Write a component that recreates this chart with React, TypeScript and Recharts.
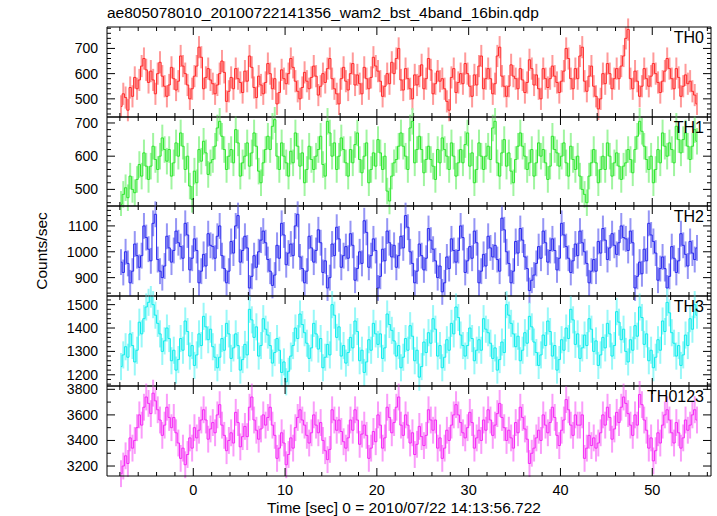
import { ComposedChart, Line, XAxis, YAxis, ErrorBar } from "recharts";

// light curves, 0.25 s bins starting at t = -8 s (values in counts/sec)
const BIN_START = -8;
const BIN_SIZE = 0.25;

const TH0 = [
  470, 520, 505, 455, 545, 510, 585, 540, 575, 630, 660, 615, 565, 610, 575, 520, 600, 645, 590, 550,
  510, 555, 625, 580, 535, 570, 670, 630, 600, 555, 500, 540, 590, 630, 705, 665, 540, 585, 620, 575,
  560, 520, 555, 600, 650, 605, 490, 530, 585, 540, 620, 580, 565, 525, 610, 570, 670, 625, 545, 505,
  590, 555, 520, 565, 640, 600, 540, 580, 480, 525, 615, 580, 560, 600, 660, 625, 570, 530, 500, 545,
  605, 570, 540, 585, 630, 590, 515, 550, 600, 565, 620, 660, 580, 540, 520, 480, 580, 625, 570, 535,
  600, 640, 555, 595, 560, 520, 625, 580, 540, 585, 665, 630, 610, 570, 510, 550, 600, 560, 645, 600,
  660, 700, 575, 535, 620, 580, 540, 500, 595, 555, 590, 635, 540, 580, 660, 615, 520, 560, 610, 570,
  580, 540, 490, 455, 585, 620, 525, 565, 600, 560, 640, 600, 550, 510, 595, 555, 630, 670, 540, 580,
  620, 580, 520, 560, 670, 705, 590, 550, 510, 550, 635, 590, 580, 540, 620, 575, 525, 565, 655, 620,
  555, 595, 540, 500, 620, 580, 545, 580, 630, 590, 565, 525, 570, 610, 700, 660, 580, 540, 620, 580,
  670, 705, 570, 530, 590, 630, 550, 510, 460, 500, 600, 560, 640, 600, 540, 580, 620, 580, 630, 670,
  740, 775, 580, 540, 610, 570, 510, 550, 620, 580, 550, 590, 640, 600, 565, 525, 570, 610, 660, 620,
  580, 540, 620, 585, 510, 550, 595, 560, 570, 530, 515, 480,
];

const TH1 = [
  455, 485, 505, 475, 540, 500, 490, 530, 575, 540, 610, 570, 530, 570, 630, 590, 560, 600, 655, 620,
  585, 620, 540, 580, 640, 600, 670, 630, 560, 600, 510, 470, 555, 520, 620, 585, 645, 610, 545, 580,
  590, 630, 685, 705, 660, 620, 560, 600, 620, 580, 680, 640, 540, 580, 600, 640, 570, 610, 670, 630,
  555, 520, 580, 620, 660, 620, 690, 710, 600, 560, 640, 600, 580, 540, 615, 580, 670, 630, 570, 610,
  520, 560, 630, 590, 560, 600, 620, 660, 575, 540, 705, 670, 600, 640, 560, 600, 655, 620, 580, 540,
  620, 580, 635, 670, 590, 550, 600, 640, 520, 560, 610, 570, 650, 610, 560, 600, 495, 465, 540, 580,
  590, 630, 670, 630, 600, 560, 685, 705, 580, 620, 660, 620, 550, 590, 630, 590, 570, 530, 620, 580,
  655, 620, 600, 560, 640, 600, 540, 580, 620, 580, 635, 670, 570, 610, 520, 560, 640, 600, 560, 600,
  630, 590, 685, 705, 580, 540, 610, 650, 570, 610, 555, 520, 590, 630, 670, 630, 600, 560, 580, 620,
  540, 580, 640, 600, 620, 580, 530, 570, 660, 620, 610, 570, 600, 640, 580, 540, 630, 590, 560, 600,
  540, 500, 485, 460, 540, 580, 620, 580, 520, 560, 600, 560, 640, 600, 540, 580, 610, 570, 530, 570,
  580, 620, 590, 550, 620, 660, 705, 675, 630, 590, 560, 600, 520, 560, 620, 580, 670, 630, 600, 640,
  620, 580, 690, 650, 610, 650, 670, 630, 590, 630, 680, 645,
];

const TH2 = [
  960, 920, 1000, 955, 880, 925, 1030, 985, 940, 985, 1100, 1055, 1010, 965, 1110, 1145, 970, 925, 900, 945,
  1060, 1015, 960, 1005, 1080, 1035, 1020, 975, 1110, 1065, 930, 975, 1050, 1005, 880, 925, 990, 945, 1070, 1025,
  1020, 975, 1060, 1100, 985, 935, 880, 925, 1040, 995, 1100, 1140, 960, 1005, 1060, 1015, 860, 905, 985, 940,
  1000, 1045, 1080, 1035, 970, 925, 870, 910, 1025, 975, 1110, 1065, 950, 995, 1030, 985, 1100, 1145, 980, 935,
  880, 925, 1060, 1015, 960, 1005, 1085, 1035, 920, 965, 860, 900, 1030, 985, 1095, 1050, 940, 985, 1020, 975,
  1070, 1025, 890, 935, 1000, 955, 1120, 1075, 940, 985, 1050, 1005, 860, 905, 1010, 965, 1080, 1035, 980, 1025,
  940, 985, 1060, 1015, 1140, 1095, 1000, 955, 880, 925, 1030, 985, 930, 975, 1090, 1045, 1010, 965, 900, 945,
  845, 880, 980, 935, 1050, 1005, 960, 1005, 1100, 1055, 920, 965, 1020, 975, 1080, 1035, 880, 925, 990, 945,
  1060, 1015, 980, 1025, 970, 925, 1130, 1085, 1000, 955, 880, 925, 1040, 995, 1090, 1045, 980, 935, 850, 890,
  910, 955, 1020, 975, 1080, 1035, 960, 1005, 1050, 1005, 930, 975, 1110, 1065, 1020, 975, 920, 965, 1030, 985,
  1080, 1035, 1000, 955, 880, 925, 970, 925, 1040, 995, 1090, 1045, 970, 1015, 1070, 1025, 990, 1035, 1100, 1055,
  1050, 1005, 1080, 1035, 860, 905, 960, 915, 1010, 965, 1110, 1065, 1040, 995, 890, 935, 980, 935, 860, 905,
  1020, 975, 920, 965, 1070, 1025, 990, 945, 1040, 995, 970, 1015,
];

const TH3 = [
  1235, 1285, 1320, 1275, 1375, 1325, 1255, 1305, 1425, 1375, 1440, 1490, 1510, 1545, 1500, 1455, 1420, 1375, 1300, 1345,
  1400, 1355, 1260, 1305, 1220, 1265, 1355, 1305, 1430, 1385, 1280, 1325, 1240, 1285, 1375, 1325, 1450, 1405, 1350, 1395,
  1320, 1275, 1230, 1275, 1355, 1305, 1420, 1375, 1270, 1315, 1375, 1325, 1220, 1265, 1330, 1285, 1480, 1435, 1360, 1405,
  1280, 1325, 1440, 1395, 1370, 1325, 1250, 1295, 1355, 1305, 1210, 1255, 1170, 1215, 1280, 1325, 1400, 1355, 1460, 1415,
  1380, 1335, 1270, 1315, 1420, 1375, 1310, 1355, 1230, 1275, 1330, 1285, 1500, 1455, 1360, 1405, 1280, 1325, 1250, 1295,
  1360, 1315, 1430, 1385, 1260, 1305, 1210, 1255, 1350, 1305, 1420, 1375, 1330, 1375, 1270, 1315, 1460, 1415, 1390, 1345,
  1280, 1325, 1230, 1275, 1355, 1305, 1410, 1365, 1260, 1305, 1190, 1235, 1340, 1295, 1380, 1335, 1440, 1395, 1280, 1325,
  1230, 1275, 1350, 1305, 1420, 1375, 1490, 1445, 1370, 1325, 1280, 1325, 1400, 1355, 1260, 1305, 1350, 1305, 1440, 1395,
  1380, 1335, 1270, 1315, 1220, 1265, 1340, 1295, 1500, 1455, 1420, 1375, 1320, 1365, 1260, 1305, 1380, 1335, 1450, 1405,
  1340, 1295, 1240, 1285, 1370, 1325, 1430, 1385, 1280, 1325, 1220, 1265, 1350, 1305, 1400, 1355, 1480, 1435, 1330, 1375,
  1270, 1315, 1370, 1325, 1440, 1395, 1300, 1345, 1240, 1285, 1360, 1315, 1420, 1375, 1280, 1325, 1470, 1425, 1350, 1395,
  1300, 1255, 1350, 1305, 1410, 1365, 1490, 1445, 1330, 1375, 1260, 1305, 1230, 1275, 1350, 1305, 1430, 1385, 1510, 1465,
  1380, 1335, 1280, 1325, 1240, 1285, 1370, 1325, 1440, 1395, 1500, 1455,
];

const TH0123 = [
  3140, 3200, 3280, 3220, 3420, 3340, 3400, 3500, 3600, 3520, 3660, 3740, 3690, 3610, 3770, 3710, 3640, 3560, 3440, 3520,
  3660, 3580, 3500, 3580, 3460, 3380, 3260, 3340, 3210, 3290, 3420, 3340, 3500, 3420, 3480, 3560, 3640, 3560, 3410, 3490,
  3540, 3460, 3600, 3680, 3520, 3440, 3320, 3400, 3460, 3380, 3620, 3540, 3350, 3430, 3510, 3430, 3660, 3740, 3560, 3480,
  3410, 3490, 3600, 3520, 3580, 3660, 3520, 3440, 3260, 3340, 3460, 3380, 3210, 3290, 3420, 3340, 3500, 3580, 3640, 3560,
  3520, 3440, 3380, 3460, 3600, 3520, 3460, 3540, 3400, 3320, 3250, 3330, 3640, 3560, 3480, 3560, 3470, 3390, 3340, 3420,
  3560, 3480, 3640, 3560, 3370, 3450, 3520, 3440, 3260, 3340, 3470, 3390, 3600, 3520, 3340, 3420, 3660, 3580, 3460, 3540,
  3660, 3740, 3520, 3440, 3600, 3520, 3380, 3460, 3290, 3370, 3510, 3430, 3360, 3440, 3640, 3560, 3480, 3560, 3340, 3420,
  3260, 3340, 3480, 3400, 3520, 3600, 3680, 3600, 3540, 3460, 3420, 3500, 3620, 3540, 3340, 3420, 3480, 3400, 3560, 3480,
  3640, 3560, 3440, 3520, 3610, 3690, 3580, 3500, 3400, 3480, 3420, 3340, 3540, 3460, 3660, 3580, 3490, 3410, 3220, 3300,
  3340, 3420, 3480, 3400, 3600, 3520, 3460, 3540, 3660, 3580, 3440, 3360, 3480, 3560, 3720, 3640, 3520, 3440, 3600, 3520,
  3520, 3600, 3260, 3340, 3440, 3360, 3420, 3340, 3380, 3460, 3600, 3520, 3660, 3580, 3410, 3490, 3620, 3540, 3660, 3740,
  3690, 3610, 3520, 3440, 3600, 3520, 3760, 3680, 3560, 3480, 3340, 3420, 3240, 3320, 3460, 3380, 3520, 3600, 3640, 3560,
  3460, 3380, 3540, 3460, 3340, 3420, 3560, 3480, 3520, 3600, 3640, 3560,
];

// typical 1-sigma error per bin
const ERR_TH0 = 44;
const ERR_TH1 = 40;
const ERR_TH2 = 50;
const ERR_TH3 = 58;
const ERR_TH0123 = 105;

const X_TICKS = [-8, -6, -4, -2, 0, 2, 4, 6, 8, 10, 12, 14, 16, 18, 20, 22, 24, 26, 28, 30, 32, 34, 36, 38, 40, 42, 44, 46, 48, 50, 52, 54, 56];
const X_MAJOR = 10;

const Y_TICKS_TH0 = [440, 460, 480, 500, 520, 540, 560, 580, 600, 620, 640, 660, 680, 700, 720, 740, 760, 780];
const Y_TICKS_TH1 = [460, 480, 500, 520, 540, 560, 580, 600, 620, 640, 660, 680, 700];
const Y_TICKS_TH2 = [840, 860, 880, 900, 920, 940, 960, 980, 1000, 1020, 1040, 1060, 1080, 1100, 1120, 1140, 1160];
const Y_TICKS_TH3 = [1160, 1180, 1200, 1220, 1240, 1260, 1280, 1300, 1320, 1340, 1360, 1380, 1400, 1420, 1440, 1460, 1480, 1500, 1520];
const Y_TICKS_SUM = [3200, 3300, 3400, 3500, 3600, 3700, 3800];

const W = 717;
const LEFT = 107;
const RIGHT = 711;
const EDGES = [27, 117, 206, 296, 386, 476];
const PAD = 10;
const AX = 1; // thickness reserved by each axis box
const FONT = '"Liberation Sans", Arial, Helvetica, sans-serif';
const X_DOMAIN: [number, number] = [-9.4, 56.4];

const panels = [
  { name: "TH0", values: TH0, err: ERR_TH0, color: "#ff2a2a", light: "#ff9a9a", domain: [428, 785], ticks: Y_TICKS_TH0, major: 100 },
  { name: "TH1", values: TH1, err: ERR_TH1, color: "#2ee62e", light: "#a0f5a0", domain: [450, 718], ticks: Y_TICKS_TH1, major: 100 },
  { name: "TH2", values: TH2, err: ERR_TH2, color: "#2a2aee", light: "#9595f5", domain: [829, 1177], ticks: Y_TICKS_TH2, major: 100 },
  { name: "TH3", values: TH3, err: ERR_TH3, color: "#10ecec", light: "#98f8f8", domain: [1152, 1537], ticks: Y_TICKS_TH3, major: 100 },
  { name: "TH0123", values: TH0123, err: ERR_TH0123, color: "#f52af5", light: "#fa9cfa", domain: [3122, 3826], ticks: Y_TICKS_SUM, major: 200 },
];

function xTick(side: "bottom" | "top", labels: boolean) {
  return (props: any) => {
    const { x, y, payload } = props;
    const major = payload.value % X_MAJOR === 0;
    const len = major ? 8 : 4;
    const dir = side === "bottom" ? -1 : 1;
    return (
      <g>
        <line x1={x} y1={y} x2={x} y2={y + dir * len} stroke="#000" strokeWidth={1} />
        {labels && major ? (
          <text x={x} y={y + 19} textAnchor="middle" fontSize={14.5} fontFamily={FONT} fill="#000">
            {payload.value}
          </text>
        ) : null}
      </g>
    );
  };
}

function yTick(side: "left" | "right", major: number) {
  return (props: any) => {
    const { x, y, payload } = props;
    const isMajor = payload.value % major === 0;
    const len = isMajor ? 8 : 4;
    const dir = side === "left" ? 1 : -1;
    return (
      <g>
        <line x1={x} y1={y} x2={x + dir * len} y2={y} stroke="#000" strokeWidth={1} />
        {side === "left" && isMajor ? (
          <text x={x - 9} y={y + 5} textAnchor="end" fontSize={14} fontFamily={FONT} fill="#000">
            {payload.value}
          </text>
        ) : null}
      </g>
    );
  };
}

function Panel({ p, index }: { p: (typeof panels)[number]; index: number }) {
  const top = EDGES[index];
  const h = EDGES[index + 1] - top;
  const last = index === panels.length - 1;
  const bottomPad = last ? 26 : PAD;
  const data = p.values.map((v, i) => ({ t: BIN_START + BIN_SIZE * (i + 0.5), v, e: p.err }));
  return (
    <div style={{ position: "absolute", left: 0, top: top - PAD }}>
      <ComposedChart
        width={W}
        height={h + PAD + bottomPad}
        data={data}
        margin={{ top: PAD - AX, right: W - RIGHT - AX, bottom: bottomPad - AX, left: LEFT - AX }}
      >
        <XAxis
          xAxisId="b"
          dataKey="t"
          type="number"
          domain={X_DOMAIN}
          ticks={X_TICKS}
          interval={0}
          height={AX}
          tickSize={0}
          tickMargin={0}
          tickLine={false}
          tick={xTick("bottom", last)}
          axisLine={{ stroke: "#000" }}
          allowDataOverflow
        />
        <XAxis
          xAxisId="t"
          orientation="top"
          dataKey="t"
          type="number"
          domain={X_DOMAIN}
          ticks={X_TICKS}
          interval={0}
          height={AX}
          tickSize={0}
          tickMargin={0}
          tickLine={false}
          tick={xTick("top", false)}
          axisLine={{ stroke: "#000" }}
          allowDataOverflow
        />
        <YAxis
          yAxisId="l"
          type="number"
          domain={p.domain}
          ticks={p.ticks}
          interval={0}
          width={AX}
          tickSize={0}
          tickMargin={0}
          tickLine={false}
          tick={yTick("left", p.major)}
          axisLine={{ stroke: "#000" }}
          allowDataOverflow
        />
        <YAxis
          yAxisId="r"
          orientation="right"
          type="number"
          domain={p.domain}
          ticks={p.ticks}
          interval={0}
          width={AX}
          tickSize={0}
          tickMargin={0}
          tickLine={false}
          tick={yTick("right", p.major)}
          axisLine={{ stroke: "#000" }}
          allowDataOverflow
        />
        <Line
          xAxisId="b"
          yAxisId="l"
          dataKey="v"
          stroke="none"
          dot={false}
          isAnimationActive={false}
        >
          <ErrorBar dataKey="e" width={0} stroke={p.light} strokeWidth={2} direction="y" />
        </Line>
        <Line
          xAxisId="b"
          yAxisId="l"
          dataKey="v"
          type="step"
          stroke={p.color}
          strokeWidth={1}
          dot={false}
          isAnimationActive={false}
        />
      </ComposedChart>
      <div
        style={{
          position: "absolute",
          right: W - 704,
          top: PAD + 3,
          fontFamily: FONT,
          fontSize: 16,
          lineHeight: "16px",
          color: "#000",
        }}
      >
        {p.name}
      </div>
    </div>
  );
}

export default function App() {
  return (
    <div style={{ position: "absolute", left: 0, top: 0, width: W, height: 516, background: "#fff", fontFamily: FONT }}>
      <div style={{ position: "absolute", left: LEFT, top: 5, fontSize: 15.5, lineHeight: "16px", color: "#000" }}>
        ae805078010_20100722141356_wam2_bst_4band_16bin.qdp
      </div>
      {panels.map((p, i) => (
        <Panel key={p.name} p={p} index={i} />
      ))}
      <div
        style={{
          position: "absolute",
          left: 42,
          top: 251,
          transform: "translate(-50%, -50%) rotate(-90deg)",
          fontSize: 15.5,
          whiteSpace: "nowrap",
          color: "#000",
        }}
      >
        Counts/sec
      </div>
      <div
        style={{
          position: "absolute",
          left: 404,
          top: 500,
          transform: "translateX(-50%)",
          fontSize: 15.5,
          lineHeight: "15px",
          whiteSpace: "nowrap",
          color: "#000",
        }}
      >
        Time [sec] 0 = 2010/07/22 14:13:56.722
      </div>
    </div>
  );
}
